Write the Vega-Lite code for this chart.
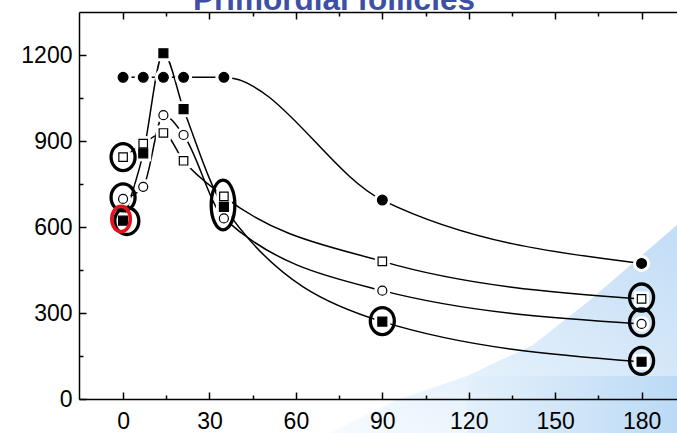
{
  "$schema": "https://vega.github.io/schema/vega-lite/v6.json",
  "width": 598,
  "height": 387,
  "autosize": {"type": "none"},
  "padding": {"left": 79, "top": 12, "right": 0, "bottom": 34},
  "background": "white",
  "title": {
    "text": "Primordial follicles",
    "font": "Liberation Sans",
    "fontSize": 31.5,
    "fontWeight": "bold",
    "color": "#3c50a6",
    "anchor": "middle",
    "frame": "group",
    "dx": -44,
    "offset": -30,
    "baseline": "alphabetic"
  },
  "config": {
    "view": {"stroke": null},
    "axis": {
      "labelFont": "Liberation Sans",
      "labelFontSize": 23,
      "labelColor": "black",
      "domainColor": "black",
      "tickColor": "black",
      "domainWidth": 1.5,
      "tickWidth": 1.5,
      "grid": false,
      "title": null,
      "zindex": 1
    }
  },
  "datasets": {
    "series": [
      {"day": 0, "count": 1122, "group": "filled circle"},
      {"day": 7, "count": 1122, "group": "filled circle"},
      {"day": 14, "count": 1122, "group": "filled circle"},
      {"day": 21, "count": 1122, "group": "filled circle"},
      {"day": 35, "count": 1122, "group": "filled circle"},
      {"day": 90, "count": 694, "group": "filled circle"},
      {"day": 180, "count": 473, "group": "filled circle"},
      {"day": 0, "count": 622, "group": "filled square"},
      {"day": 7, "count": 857, "group": "filled square"},
      {"day": 14, "count": 1206, "group": "filled square"},
      {"day": 21, "count": 1011, "group": "filled square"},
      {"day": 35, "count": 670, "group": "filled square"},
      {"day": 90, "count": 270, "group": "filled square"},
      {"day": 180, "count": 130, "group": "filled square"},
      {"day": 0, "count": 698, "group": "open circle"},
      {"day": 7, "count": 740, "group": "open circle"},
      {"day": 14, "count": 990, "group": "open circle"},
      {"day": 21, "count": 921, "group": "open circle"},
      {"day": 35, "count": 630, "group": "open circle"},
      {"day": 90, "count": 378, "group": "open circle"},
      {"day": 180, "count": 262, "group": "open circle"},
      {"day": 0, "count": 844, "group": "open square"},
      {"day": 7, "count": 891, "group": "open square"},
      {"day": 14, "count": 928, "group": "open square"},
      {"day": 21, "count": 831, "group": "open square"},
      {"day": 35, "count": 707, "group": "open square"},
      {"day": 90, "count": 480, "group": "open square"},
      {"day": 180, "count": 349, "group": "open square"}
    ],
    "rings": [
      {"day": 0, "count": 844, "kind": "round"},
      {"day": 0, "count": 703, "kind": "round"},
      {"day": 1.3, "count": 621, "kind": "round"},
      {"day": 34.7, "count": 677, "kind": "tall"},
      {"day": 90, "count": 272, "kind": "round"},
      {"day": 180, "count": 354, "kind": "round"},
      {"day": 180, "count": 267, "kind": "round"},
      {"day": 180, "count": 133, "kind": "round"},
      {"day": -0.7, "count": 628, "kind": "red"}
    ],
    "sweep": [
      {"day": 71.8, "count": -118.6},
      {"day": 75.3, "count": -101.2},
      {"day": 95.1, "count": -3.5},
      {"day": 119.4, "count": 80.2},
      {"day": 142.3, "count": 188.4},
      {"day": 162.1, "count": 345.3},
      {"day": 192.3, "count": 607}
    ],
    "band": [
      {"day": 119.4, "count": 80.2},
      {"day": 192.3, "count": 80.2}
    ]
  },
  "resolve": {
    "axis": {"x": "independent", "y": "independent"},
    "scale": {"shape": "independent", "size": "independent", "fill": "independent", "stroke": "independent", "strokeWidth": "independent"}
  },
  "layer": [
    {
      "data": {"name": "sweep"},
      "mark": {
        "type": "area",
        "clip": false,
        "color": {
          "gradient": "linear",
          "x1": 0, "y1": 1, "x2": 1, "y2": 0,
          "stops": [
            {"offset": 0, "color": "#f7fbff"},
            {"offset": 1, "color": "#c2ddf6"}
          ]
        }
      },
      "encoding": {
        "x": {
          "field": "day", "type": "quantitative",
          "scale": {"domain": [-15.3, 192.3], "nice": false, "zero": false},
          "axis": {"orient": "bottom", "values": [0, 30, 60, 90, 120, 150, 180], "tickSize": -7, "labelPadding": 18, "title": null, "zindex": 2}
        },
        "y": {
          "field": "count", "type": "quantitative",
          "scale": {"domain": [0, 1350], "nice": false},
          "axis": {"orient": "left", "values": [0, 300, 600, 900, 1200], "format": "d", "tickSize": -7, "labelPadding": 14, "title": null, "zindex": 2}
        },
        "y2": {"datum": -118.6}
      }
    },
    {
      "data": {"name": "band"},
      "mark": {
        "type": "area",
        "clip": false,
        "color": {
          "gradient": "linear",
          "x1": 0, "y1": 0, "x2": 1, "y2": 0,
          "stops": [
            {"offset": 0, "color": "#e4f0fb"},
            {"offset": 1, "color": "#bcdaf5"}
          ]
        }
      },
      "encoding": {
        "x": {
          "field": "day", "type": "quantitative",
          "axis": {"orient": "bottom", "values": [15, 45, 75, 105, 135, 165], "tickSize": -4, "labels": false, "domain": false, "title": null, "zindex": 2}
        },
        "y": {
          "field": "count", "type": "quantitative",
          "axis": {"orient": "left", "values": [150, 450, 750, 1050], "tickSize": -4, "labels": false, "domain": false, "title": null, "zindex": 2}
        },
        "y2": {"datum": -118.6}
      }
    },
    {
      "data": {"name": "series"},
      "mark": {"type": "line", "interpolate": "monotone", "color": "black", "strokeWidth": 1.5},
      "encoding": {
        "x": {
          "field": "day", "type": "quantitative",
          "axis": {"orient": "top", "values": [0, 30, 60, 90, 120, 150, 180], "tickSize": -7, "labels": false, "title": null, "zindex": 2}
        },
        "y": {"field": "count", "type": "quantitative", "axis": null},
        "detail": {"field": "group"}
      }
    },
    {
      "data": {"name": "series"},
      "mark": {"type": "point", "filled": true, "opacity": 1, "color": "white"},
      "encoding": {
        "x": {
          "field": "day", "type": "quantitative",
          "axis": {"orient": "top", "values": [15, 45, 75, 105, 135, 165], "tickSize": -4, "labels": false, "domain": false, "title": null, "zindex": 2}
        },
        "y": {"field": "count", "type": "quantitative", "axis": null},
        "shape": {
          "field": "group", "type": "nominal", "legend": null,
          "scale": {"domain": ["filled circle", "filled square", "open circle", "open square"], "range": ["circle", "square", "circle", "square"]}
        },
        "size": {
          "field": "group", "type": "nominal", "legend": null,
          "scale": {"type": "ordinal", "domain": ["filled circle", "filled square", "open circle", "open square"], "range": [289, 256, 256, 225]}
        }
      }
    },
    {
      "data": {"name": "series"},
      "mark": {"type": "point", "filled": true, "opacity": 1, "stroke": "black", "strokeWidth": 1.2},
      "encoding": {
        "x": {"field": "day", "type": "quantitative", "axis": null},
        "y": {"field": "count", "type": "quantitative", "axis": null},
        "shape": {
          "field": "group", "type": "nominal", "legend": null,
          "scale": {"domain": ["filled circle", "filled square", "open circle", "open square"], "range": ["circle", "square", "circle", "square"]}
        },
        "size": {
          "field": "group", "type": "nominal", "legend": null,
          "scale": {"type": "ordinal", "domain": ["filled circle", "filled square", "open circle", "open square"], "range": [96, 80, 81, 72]}
        },
        "fill": {
          "field": "group", "type": "nominal", "legend": null,
          "scale": {"domain": ["filled circle", "filled square", "open circle", "open square"], "range": ["black", "black", "white", "white"]}
        }
      }
    },
    {
      "data": {"name": "rings"},
      "mark": {"type": "point", "filled": false, "opacity": 1},
      "encoding": {
        "x": {"field": "day", "type": "quantitative", "axis": null},
        "y": {"field": "count", "type": "quantitative", "axis": null},
        "shape": {
          "field": "kind", "type": "nominal", "legend": null,
          "scale": {
            "domain": ["round", "tall", "red"],
            "range": [
              "M0.89,0C0.89,0.552,0.49,1,0,1C-0.49,1,-0.89,0.552,-0.89,0C-0.89,-0.552,-0.49,-1,0,-1C0.49,-1,0.89,-0.552,0.89,0Z",
              "M0.477,0C0.477,0.552,0.263,1,0,1C-0.263,1,-0.477,0.552,-0.477,0C-0.477,-0.552,-0.263,-1,0,-1C0.263,-1,0.477,-0.552,0.477,0Z",
              "M0.725,0C0.725,0.552,0.4,1,0,1C-0.4,1,-0.725,0.552,-0.725,0C-0.725,-0.552,-0.4,-1,0,-1C0.4,-1,0.725,-0.552,0.725,0Z"
            ]
          }
        },
        "size": {
          "field": "kind", "type": "nominal", "legend": null,
          "scale": {"type": "ordinal", "domain": ["round", "tall", "red"], "range": [729, 2470, 650]}
        },
        "stroke": {
          "field": "kind", "type": "nominal", "legend": null,
          "scale": {"domain": ["round", "tall", "red"], "range": ["black", "black", "#e3121b"]}
        },
        "strokeWidth": {
          "field": "kind", "type": "nominal", "legend": null,
          "scale": {"type": "ordinal", "domain": ["round", "tall", "red"], "range": [3.3, 3.3, 3.6]}
        }
      }
    }
  ]
}
